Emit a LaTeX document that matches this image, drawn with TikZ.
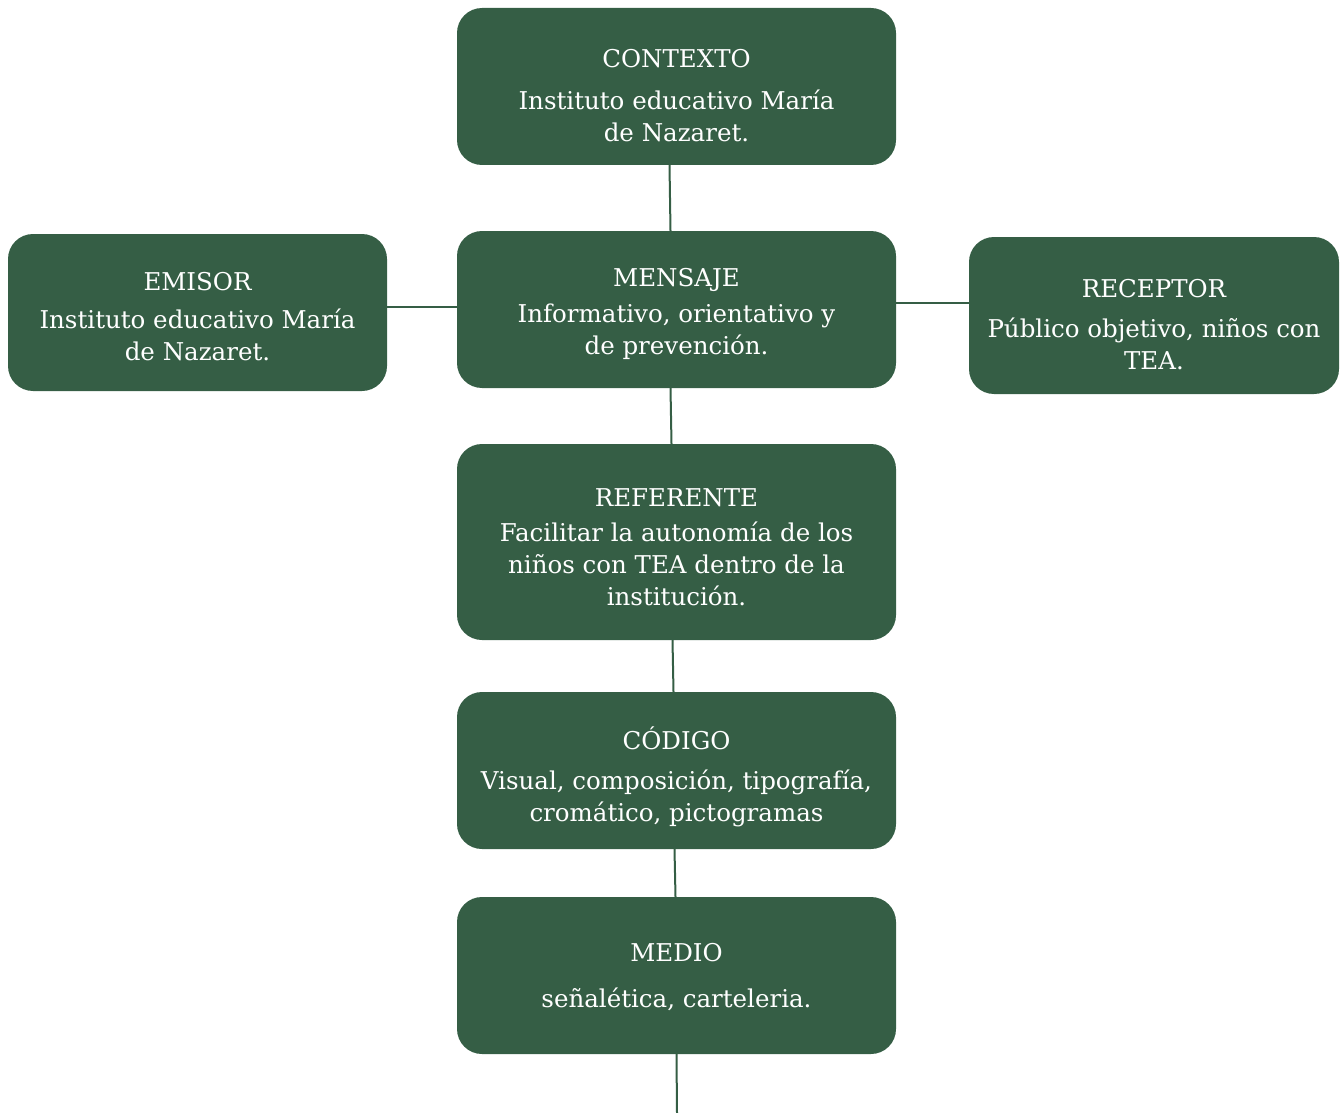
\documentclass[tikz,border=0pt]{standalone}
\usepackage{fontspec}
\setmainfont{DejaVu Serif}
\usetikzlibrary{calc}
\definecolor{boxgreen}{HTML}{355E45}
\newcommand{\tstrut}[1]{\rule{0pt}{#1}}
\tikzset{
  box/.style={fill=boxgreen, draw=none, rounded corners=25pt, text=white, align=center,
    font=\fontsize{24.5}{32}\selectfont, inner sep=0pt},
  link/.style={draw=boxgreen, line width=2pt}
}
\begin{document}
\begin{tikzpicture}[x=1pt,y=-1pt]
\useasboundingbox (0,0) rectangle (1342,1113);
\node[box, minimum width=439pt, minimum height=157pt] (ctx) at (676.5,86.5) {\tstrut{36pt}CONTEXTO\\[10pt]Instituto educativo María\\de Nazaret.};
\node[box, minimum width=439pt, minimum height=157pt] (msg) at (676.5,309.5) {\tstrut{28pt}MENSAJE\\[4pt]Informativo, orientativo y\\de prevención.};
\node[box, minimum width=379pt, minimum height=157pt] (emi) at (197.5,312.5) {\tstrut{26pt}EMISOR\\[6pt]Instituto educativo María\\de Nazaret.};
\node[box, minimum width=370pt, minimum height=157pt] (rec) at (1154,315.5) {\tstrut{36pt}RECEPTOR\\[8pt]Público objetivo, niños con\\TEA.};
\node[box, minimum width=439pt, minimum height=196pt] (ref) at (676.5,542) {\tstrut{28pt}REFERENTE\\[3pt]Facilitar la autonomía de los\\niños con TEA dentro de la\\institución.};
\node[box, minimum width=439pt, minimum height=157pt] (cod) at (676.5,770.5) {\tstrut{36pt}CÓDIGO\\[8pt]Visual, composición, tipografía,\\cromático, pictogramas};
\node[box, minimum width=439pt, minimum height=157pt] (med) at (676.5,975.5) {\tstrut{22pt}MEDIO\\[14pt]señalética, carteleria.};
\coordinate (endp) at (677,1113);
\draw[link] ($(ctx.south)+(-7,0)$) -- ($(msg.north)+(-6,0)$);
\draw[link] ($(msg.south)+(-6,0)$) -- ($(ref.north)+(-5,0)$);
\draw[link] ($(ref.south)+(-4,0)$) -- ($(cod.north)+(-3,0)$);
\draw[link] ($(cod.south)+(-2,0)$) -- ($(med.north)+(-1,0)$);
\draw[link] ($(med.south)+(0,0)$) -- (endp);
\draw[link] ($(emi.east)+(0,-6)$) -- ($(msg.west)+(0,-3)$);
\draw[link] ($(msg.east)+(0,-7)$) -- ($(rec.west)+(0,-13)$);
\end{tikzpicture}
\end{document}
